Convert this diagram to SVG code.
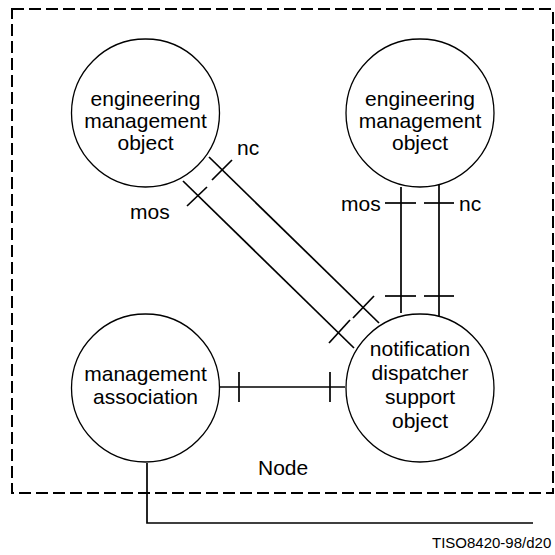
<svg xmlns="http://www.w3.org/2000/svg" width="555" height="555" viewBox="0 0 555 555">
<style>
.c{fill:#fff;stroke:#000;stroke-width:1.3}
.t{font-family:"Liberation Sans",Arial,sans-serif;font-size:21px;fill:#000}
.m{text-anchor:middle}
.l{stroke:#000;stroke-width:1.7;fill:none}
.b{fill:none;stroke:#000;stroke-width:2;stroke-dasharray:12 5}
</style>
<rect width="555" height="555" fill="#fff"/>
<rect class="b" x="12" y="9" width="541" height="484"/>
<g id="connectors">
<line class="l" x1="401" y1="187" x2="401" y2="313"/>
<line class="l" x1="439" y1="174" x2="439" y2="326"/>
<line class="l" x1="385" y1="203" x2="416" y2="203"/>
<line class="l" x1="424" y1="203" x2="454" y2="203"/>
<line class="l" x1="385" y1="296" x2="416" y2="296"/>
<line class="l" x1="424" y1="296" x2="454" y2="296"/>
<line class="l" x1="209" y1="157" x2="379" y2="323"/>
<line class="l" x1="183" y1="181" x2="354" y2="348"/>
<line class="l" x1="232" y1="160" x2="212" y2="180"/>
<line class="l" x1="207" y1="187" x2="187" y2="206"/>
<line class="l" x1="374" y1="296" x2="353" y2="318"/>
<line class="l" x1="350" y1="320" x2="329" y2="343"/>
<line class="l" x1="219" y1="387" x2="345" y2="387"/>
<line class="l" x1="239" y1="372" x2="239" y2="402"/>
<line class="l" x1="330" y1="372" x2="330" y2="402"/>
<polyline class="l" points="147,463 147,523 533,523"/>
</g>
<g id="emo1">
<circle class="c" cx="145.5" cy="113" r="74"/>
<text class="t m" x="145.5" y="106">engineering</text>
<text class="t m" x="145.5" y="128">management</text>
<text class="t m" x="145.5" y="150">object</text>
</g>
<g id="emo2">
<circle class="c" cx="420" cy="113" r="74"/>
<text class="t m" x="420" y="106">engineering</text>
<text class="t m" x="420" y="128">management</text>
<text class="t m" x="420" y="150">object</text>
</g>
<g id="ma">
<circle class="c" cx="145.5" cy="388" r="74"/>
<text class="t m" x="145.5" y="381">management</text>
<text class="t m" x="145.5" y="404">association</text>
</g>
<g id="ndso">
<circle class="c" cx="420" cy="388" r="74"/>
<text class="t m" x="420" y="356">notification</text>
<text class="t m" x="420" y="380">dispatcher</text>
<text class="t m" x="420" y="404">support</text>
<text class="t m" x="420" y="428">object</text>
</g>
<g id="labels">
<text class="t" x="237" y="155">nc</text>
<text class="t" x="130" y="219">mos</text>
<text class="t" x="341" y="211">mos</text>
<text class="t" x="459" y="211">nc</text>
<text class="t" x="258" y="475">Node</text>
<text class="t" x="432" y="548" style="font-size:15px">TISO8420-98/d20</text>
</g>
</svg>
